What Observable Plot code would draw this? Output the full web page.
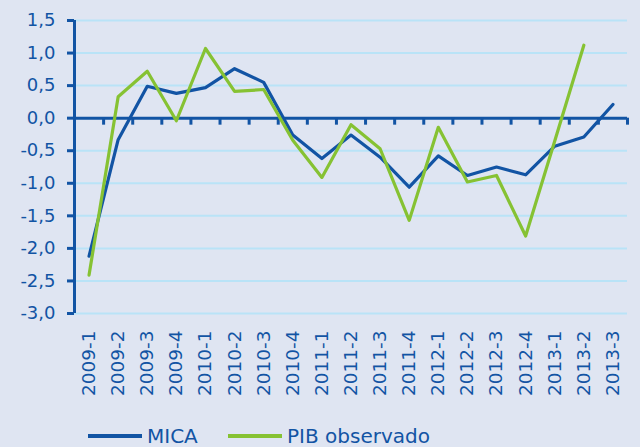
<!DOCTYPE html>
<html><head><meta charset="utf-8">
<script src="https://cdn.jsdelivr.net/npm/d3@7"></script>
<script src="https://cdn.jsdelivr.net/npm/@observablehq/plot@0.6"></script>
<style>
body{margin:0;background:#dfe5f2;}
#chart{position:relative;width:640px;height:447px;background:#dfe5f2;overflow:hidden;font-family:"DejaVu Sans",sans-serif;}
#chart svg{display:block;}
.leg{position:absolute;top:424px;height:24px;display:flex;align-items:center;font-size:20px;color:#1254a4;line-height:24px;}
.sw{display:inline-block;width:54px;height:4px;margin-right:5px;}
</style></head><body><div id="chart"></div>
<script>
const periods = ["2009-1","2009-2","2009-3","2009-4","2010-1","2010-2","2010-3","2010-4","2011-1","2011-2","2011-3","2011-4","2012-1","2012-2","2012-3","2012-4","2013-1","2013-2","2013-3"];
const mica = [-2.12,-0.33,0.49,0.38,0.47,0.76,0.55,-0.26,-0.62,-0.26,-0.60,-1.06,-0.58,-0.88,-0.75,-0.87,-0.43,-0.29,0.21];
const pib = [-2.41,0.33,0.72,-0.04,1.07,0.41,0.44,-0.34,-0.91,-0.10,-0.47,-1.57,-0.14,-0.98,-0.88,-1.81,-0.35,1.12,null];
const yTicks = [-3.0,-2.5,-2.0,-1.5,-1.0,-0.5,0.0,0.5,1.0,1.5];
const seriesNames = ["MICA","PIB observado"];
const blue = "#1254a4", green = "#86c233", grid = "#b9e3f7";

const rows = periods.map((p, i) => ({i, p, mica: mica[i], pib: pib[i]}));
const fmt = d => d.toFixed(1).replace(".", ",").replace("-0,0", "0,0");

const plot = Plot.plot({
  width: 640, height: 424,
  marginLeft: 74, marginRight: 13, marginTop: 20, marginBottom: 111,
  style: {background: "transparent", fontFamily: "DejaVu Sans", color: blue},
  x: {domain: [0, periods.length], axis: null},
  y: {domain: [-3, 1.5], axis: null},
  marks: [
    Plot.ruleY(yTicks.filter(v => v !== 0), {stroke: grid, strokeWidth: 2}),
    Plot.ruleY([0], {stroke: blue, strokeWidth: 3}),
    Plot.ruleX(rows.map(d => d.i + 1), {x: d => d, y1: 0, y2: 0, insetBottom: -7, stroke: blue, strokeWidth: 3}),
    Plot.ruleX([0], {stroke: blue, strokeWidth: 3}),
    Plot.axisY(yTicks, {tickSize: 7, tickPadding: 12, tickFormat: fmt, fontSize: 18, stroke: blue, strokeWidth: 3, fill: blue, label: null}),
    Plot.axisX(rows.map(d => d.i + 0.5), {tickFormat: d => periods[Math.floor(d)], tickRotate: -90, tickSize: 0, tickPadding: 17, fontSize: 18.5, fill: blue, anchor: "bottom", label: null}),
    Plot.line(rows, {x: d => d.i + 0.5, y: "mica", stroke: blue, strokeWidth: 3.2}),
    Plot.line(rows, {x: d => d.i + 0.5, y: "pib", stroke: green, strokeWidth: 3.2})
  ]
});
const chart = document.getElementById("chart");
chart.appendChild(plot);
const legPos = [88, 228];
[blue, green].forEach((c, k) => {
  const d = document.createElement("div");
  d.className = "leg";
  d.style.left = legPos[k] + "px";
  d.innerHTML = `<span class="sw" style="background:${c}"></span><span>${seriesNames[k]}</span>`;
  chart.appendChild(d);
});
</script></body></html>
